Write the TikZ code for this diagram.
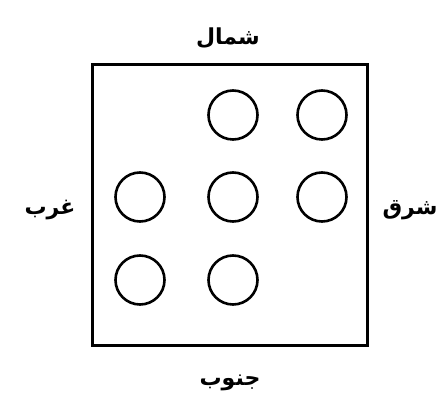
\documentclass[tikz,border=0pt]{standalone}
\usepackage{fontspec}
\newfontfamily\arabicfont[Script=Arabic]{DejaVu Sans}
\TeXXeTstate=1
\begin{document}
\begin{tikzpicture}[x=1pt,y=-1pt,
  hole/.style={circle,draw,line width=2.6pt,minimum size=49pt,inner sep=0pt},
  dirlabel/.style={font=\arabicfont\bfseries\fontsize{22}{26}\selectfont,inner sep=0pt}]
\useasboundingbox (0,0) rectangle (445,411);
\node[draw,line width=3pt,minimum width=275pt,minimum height=281pt,inner sep=0pt] (box) at (230,205) {};
\node[hole] (c1) at (233,115) {};
\node[hole] (c2) at (322,115) {};
\node[hole] (c3) at (140,197) {};
\node[hole] (c4) at (233,197) {};
\node[hole] (c5) at (322,197) {};
\node[hole] (c6) at (140,280) {};
\node[hole] (c7) at (233,280) {};
\node[dirlabel] (north) at (228,38) {\beginR شمال\endR};
\node[dirlabel] (east) at (410,210) {\beginR شرق\endR};
\node[dirlabel] (west) at (50,210) {\beginR غرب\endR};
\node[dirlabel] (south) at (230,383) {\beginR جنوب\endR};
\end{tikzpicture}
\end{document}
